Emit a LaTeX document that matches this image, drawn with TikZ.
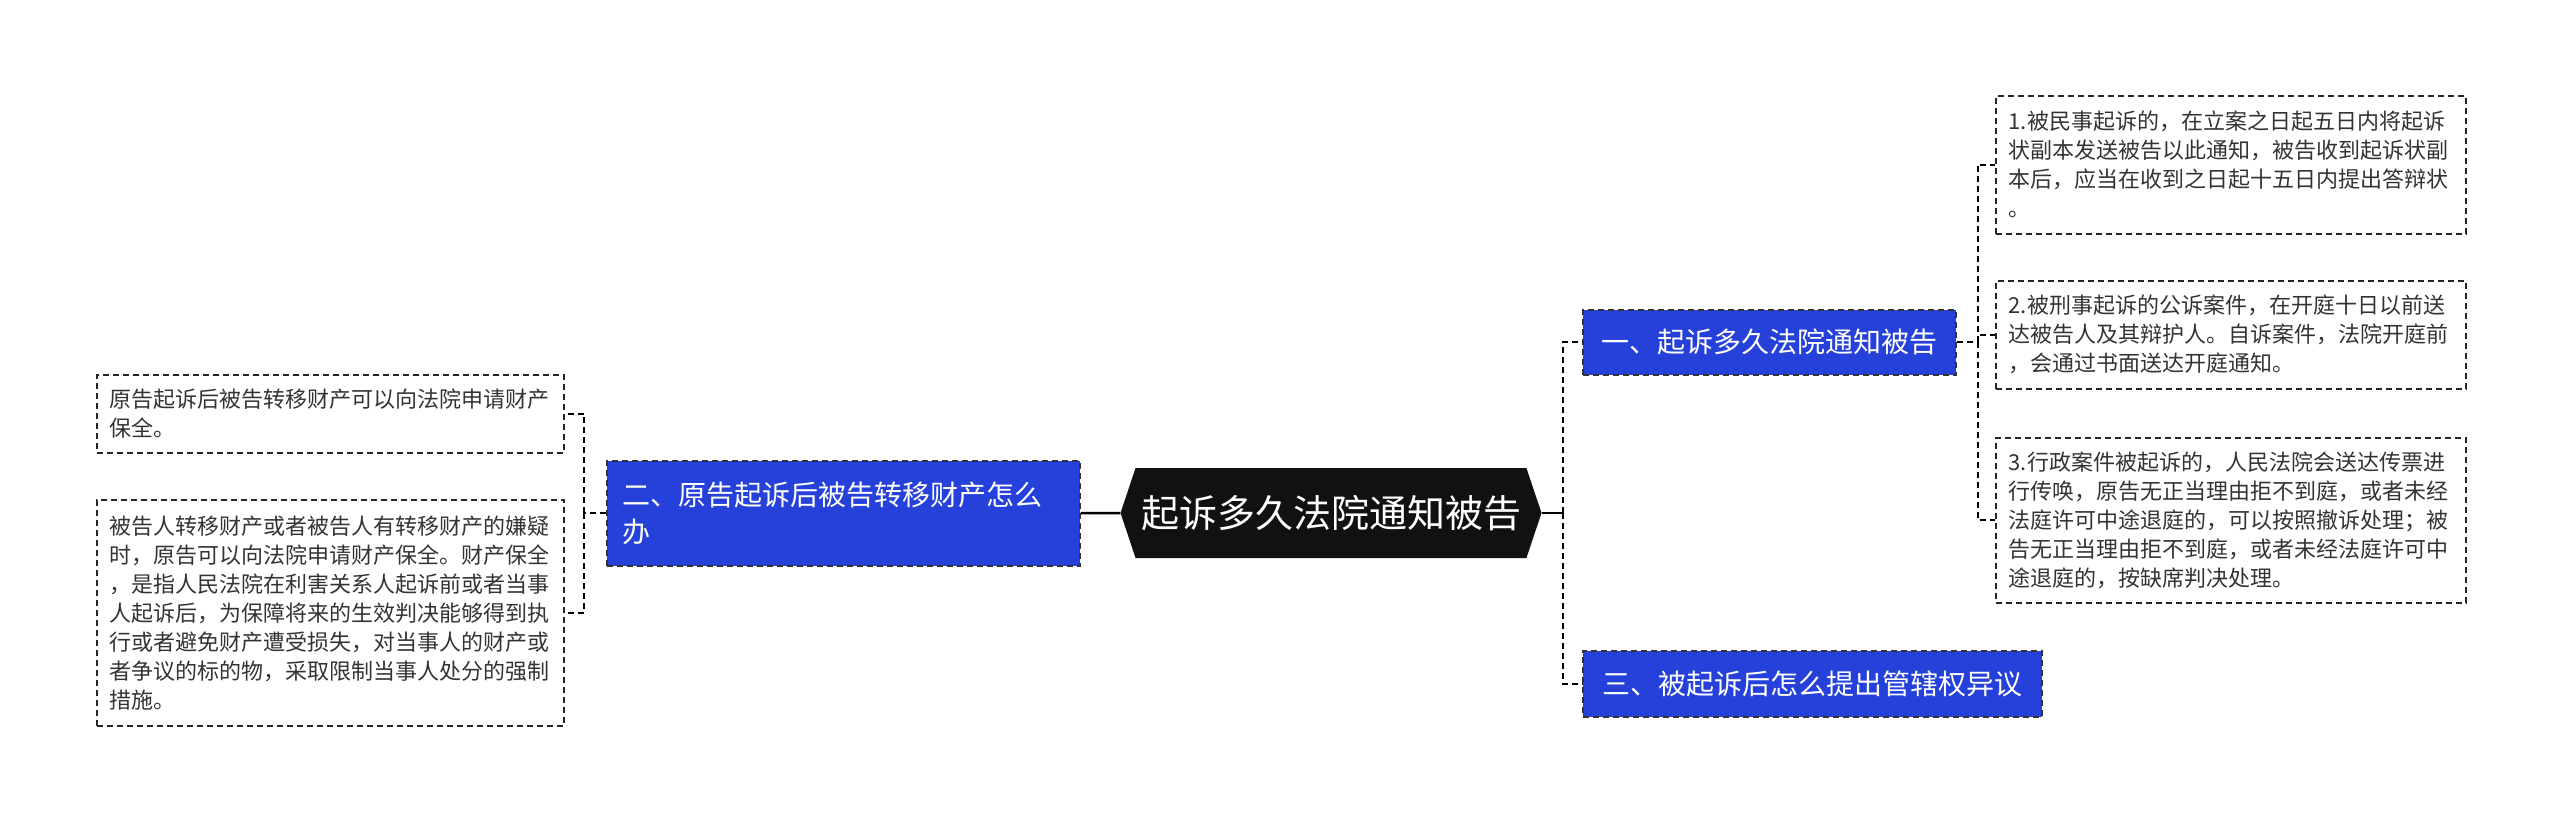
\documentclass[tikz,border=0pt]{standalone}
\usepackage{fontspec}
\setmainfont{Noto Sans CJK SC}
\usetikzlibrary{shapes.symbols}
\definecolor{topicblue}{HTML}{2541DA}
\definecolor{rootblack}{HTML}{111111}
\definecolor{leaftext}{HTML}{333333}
\tikzset{
  leafbox/.style={draw=black!85, line width=1.5pt, dash pattern=on 6pt off 4pt,
    anchor=north west, align=left, text width=444pt, inner xsep=13pt, inner ysep=0pt,
    text=leaftext, font=\fontsize{22}{29}\selectfont},
  topicbox/.style={draw=black!80, fill=topicblue, line width=1.5pt, dash pattern=on 6pt off 4pt,
    anchor=north west, inner xsep=15pt, inner ysep=0pt, text=white,
    font=\fontsize{28}{37}\selectfont},
  rootbox/.style={shape=signal, signal to=west and east, signal pointer angle=143,
    fill=rootblack, text=white, inner sep=0pt, font=\fontsize{38}{44}\selectfont},
  link/.style={line width=2pt, dash pattern=on 6pt off 4pt},
  rootlink/.style={line width=2.5pt},
}
\begin{document}
\begin{tikzpicture}[x=1pt, y=-1pt]
  \useasboundingbox (0,0) rectangle (2560,819);

  % Zentrum
  \node[rootbox, minimum width=421pt, minimum height=90pt] (root) at (1331,513) {起诉多久法院通知被告};

  % Hauptthemen
  \node[topicbox, minimum width=373pt, minimum height=65pt] (t1) at (1582,309) {一、起诉多久法院通知被告};
  \node[topicbox, minimum width=459pt, minimum height=66pt] (t3) at (1582,650) {三、被起诉后怎么提出管辖权异议};
  \node[topicbox, align=left, text width=441pt, inner xsep=16pt, minimum height=105pt] (t2) at (606,460)
    {二、原告起诉后被告转移财产怎么\\办};

  % Blaetter rechts
  \node[leafbox, minimum height=138pt] (r1) at (1995,95)
    {1.被民事起诉的，在立案之日起五日内将起诉\\状副本发送被告以此通知，被告收到起诉状副\\本后，应当在收到之日起十五日内提出答辩状\\。};
  \node[leafbox, minimum height=108pt] (r2) at (1995,280)
    {2.被刑事起诉的公诉案件，在开庭十日以前送\\达被告人及其辩护人。自诉案件，法院开庭前\\，会通过书面送达开庭通知。};
  \node[leafbox, minimum height=165pt] (r3) at (1995,437)
    {3.行政案件被起诉的，人民法院会送达传票进\\行传唤，原告无正当理由拒不到庭，或者未经\\法庭许可中途退庭的，可以按照撤诉处理；被\\告无正当理由拒不到庭，或者未经法庭许可中\\途退庭的，按缺席判决处理。};

  % Blaetter links
  \node[leafbox, text width=441pt, minimum height=78pt] (l1) at (96,374)
    {原告起诉后被告转移财产可以向法院申请财产\\保全。};
  \node[leafbox, text width=441pt, minimum height=226pt] (l2) at (96,499)
    {被告人转移财产或者被告人有转移财产的嫌疑\\时，原告可以向法院申请财产保全。财产保全\\，是指人民法院在利害关系人起诉前或者当事\\人起诉后，为保障将来的生效判决能够得到执\\行或者避免财产遭受损失，对当事人的财产或\\者争议的标的物，采取限制当事人处分的强制\\措施。};

  % Verbindungen
  \draw[rootlink] (root.west) -- (t2.east);
  \draw[rootlink] (root.east) -- ++(21,0) coordinate (jr);
  \draw[link] (jr) |- (t1.west);
  \draw[link] (jr) |- (t3.west);

  \draw[link] (t1.east) -- ++(21,0) coordinate (js);
  \draw[link] (js) |- (r1.west);
  \draw[link] (js) |- (r2.west);
  \draw[link] (js) |- (r3.west);

  \draw[link] (t2.west) -- ++(-22,0) coordinate (jl);
  \draw[link] (jl) |- (l1.east);
  \draw[link] (jl) |- (l2.east);
\end{tikzpicture}
\end{document}
